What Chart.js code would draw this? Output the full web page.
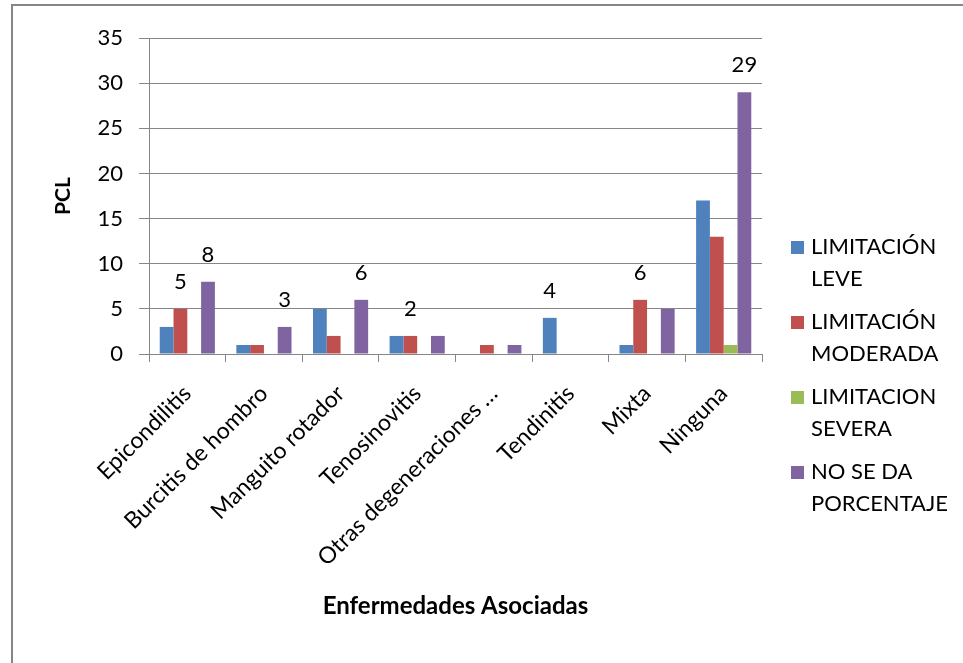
<!DOCTYPE html>
<html>
<head>
<meta charset="utf-8">
<script src="https://cdn.jsdelivr.net/npm/chart.js@4"></script>
<style>
  html, body { margin: 0; padding: 0; background: #fff; }
  #wrap { width: 963px; height: 663px; }
</style>
</head>
<body>
<div id="wrap"><canvas id="chart" width="963" height="663"></canvas></div>
<script>
const categories = ['Epicondilitis', 'Burcitis de hombro', 'Manguito rotador', 'Tenosinovitis',
  'Otras degeneraciones …', 'Tendinitis', 'Mixta', 'Ninguna'];
const leve      = [3, 1, 5, 2, 0, 4, 1, 17];
const moderada  = [5, 1, 2, 2, 1, 0, 6, 13];
const severa    = [0, 0, 0, 0, 0, 0, 0, 1];
const noPorcent = [8, 3, 6, 2, 1, 0, 5, 29];
const seriesNames = [['LIMITACIÓN', 'LEVE'], ['LIMITACIÓN', 'MODERADA'], ['LIMITACION', 'SEVERA'], ['NO SE DA', 'PORCENTAJE']];
const seriesColors = ['#4F81BD', '#C0504D', '#9BBB59', '#8064A2'];
const yTicks = [0, 5, 10, 15, 20, 25, 30, 35];
// [category index, dataset index] of the bars that carry a value label
const labelled = [[0, 1], [0, 3], [1, 3], [2, 3], [3, 1], [5, 0], [6, 1], [7, 3]];

const FONT = 'Lato, "Open Sans", sans-serif';

const frame = {
  id: 'frame',
  beforeDraw(chart) {
    const c = chart.ctx;
    c.save();
    c.strokeStyle = '#868686';
    c.lineWidth = 2;
    c.beginPath();
    c.moveTo(12, 663); c.lineTo(12, 5); c.lineTo(963, 5);
    c.stroke();
    c.restore();
  }
};

const valueLabels = {
  id: 'valueLabels',
  afterDatasetsDraw(chart) {
    const c = chart.ctx;
    c.save();
    c.font = '22px ' + FONT;
    c.fillStyle = '#000';
    c.textAlign = 'center';
    c.textBaseline = 'alphabetic';
    labelled.forEach(([i, d]) => {
      const bar = chart.getDatasetMeta(d).data[i];
      const v = chart.data.datasets[d].data[i];
      c.fillText(String(v), bar.x, bar.y - 20);
    });
    c.restore();
  }
};

const sideLegend = {
  id: 'sideLegend',
  afterDraw(chart) {
    const c = chart.ctx;
    c.save();
    c.font = '22px ' + FONT;
    c.textBaseline = 'middle';
    chart.data.datasets.forEach((ds, k) => {
      const y = 247 + k * 75;
      c.fillStyle = ds.backgroundColor;
      c.fillRect(791, y - 6, 13, 13);
      c.fillStyle = '#000';
      ds.label.forEach((line, j) => c.fillText(line, 811, y + j * 32));
    });
    c.restore();
  }
};

new Chart(document.getElementById('chart'), {
  type: 'bar',
  data: {
    labels: categories,
    datasets: [leve, moderada, severa, noPorcent].map((vals, k) => ({
      label: seriesNames[k],
      data: vals,
      backgroundColor: seriesColors[k],
      barPercentage: 1,
      categoryPercentage: 0.72
    }))
  },
  options: {
    responsive: false,
    animation: false,
    layout: { padding: { left: 0, top: 38, right: 201, bottom: 0 } },
    plugins: { legend: { display: false }, tooltip: { enabled: false } },
    scales: {
      x: {
        grid: { drawOnChartArea: false, drawTicks: true, tickLength: 8, color: '#868686' },
        border: { color: '#868686' },
        ticks: { color: '#000', font: { family: FONT, size: 23 }, maxRotation: 45, minRotation: 45, padding: 18 },
        title: { display: true, text: 'Enfermedades Asociadas', color: '#000',
          font: { family: FONT, size: 24, weight: 'bold' }, padding: { top: 0, bottom: 42 } },
        afterFit: s => { s.height = 663 - 354; }
      },
      y: {
        min: 0, max: 35,
        afterBuildTicks: s => { s.ticks = yTicks.map(v => ({ value: v })); },
        grid: { color: '#868686', tickLength: 10 },
        border: { color: '#868686' },
        ticks: { color: '#000', font: { family: FONT, size: 22 }, padding: 16 },
        title: { display: true, text: 'PCL', color: '#000',
          font: { family: FONT, size: 21, weight: 'bold' }, padding: { top: 51, bottom: 0 } },
        afterFit: s => { s.width = 149; }
      }
    }
  },
  plugins: [frame, valueLabels, sideLegend]
});
</script>
</body>
</html>
